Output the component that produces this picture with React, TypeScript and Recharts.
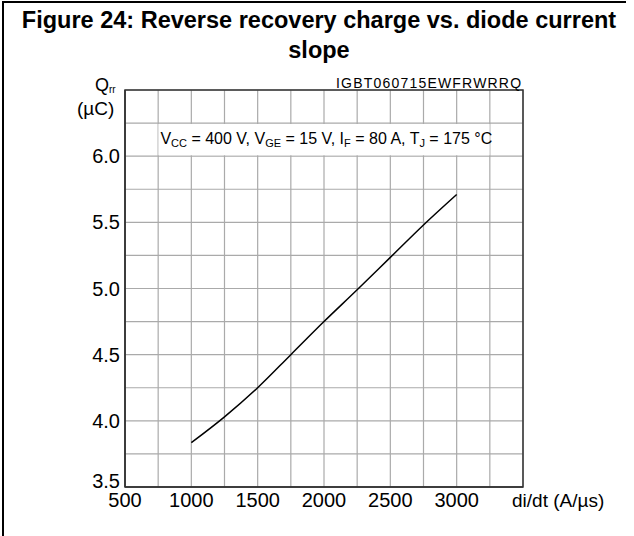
import React from 'react';
import { LineChart, Line, XAxis, YAxis, CartesianGrid, ReferenceArea } from 'recharts';

// (di/dt in A/µs, Qrr in µC)
const diDt = [1000, 1250, 1500, 1750, 2000, 2250, 2500, 2750, 3000];
const qrr = [3.835, 4.03, 4.25, 4.5, 4.75, 4.99, 5.235, 5.48, 5.71];

const xTicks = [500, 1000, 1500, 2000, 2500, 3000];
const yTicks = [3.5, 4.0, 4.5, 5.0, 5.5, 6.0];
const xGrid = [500, 750, 1000, 1250, 1500, 1750, 2000, 2250, 2500, 2750, 3000, 3250, 3500];
const yGrid = [3.5, 3.75, 4.0, 4.25, 4.5, 4.75, 5.0, 5.25, 5.5, 5.75, 6.0, 6.25, 6.5];

const FONT = '"Liberation Sans", Arial, sans-serif';

const data = diDt.map((x, i) => ({ x, q: qrr[i] }));

const YTick = (props: any) => {
  const { x, y, payload } = props;
  // bottom label sits on the axis instead of centred on it
  const shift = payload.value === 3.5 ? -6 : 0;
  return (
    <text x={x} y={y + shift} dy="0.355em" textAnchor="end" fontSize={20} fontFamily={FONT} fill="#000">
      {payload.value.toFixed(1)}
    </text>
  );
};

const Conditions = (props: any) => {
  const { viewBox } = props;
  const sub = { fontSize: 11 };
  return (
    <text x={viewBox.x + 2} y={viewBox.y + 20} fontSize={16} fontFamily={FONT} fill="#000">
      V<tspan {...sub} dy={3}>CC</tspan>
      <tspan dy={-3}> = 400 V, V</tspan>
      <tspan {...sub} dy={3}>GE</tspan>
      <tspan dy={-3}> = 15 V, I</tspan>
      <tspan {...sub} dy={3}>F</tspan>
      <tspan dy={-3}> = 80 A, T</tspan>
      <tspan {...sub} dy={3}>J</tspan>
      <tspan dy={-3}> = 175 °C</tspan>
    </text>
  );
};

const abs = (left: number, top: number): React.CSSProperties => ({
  position: 'absolute',
  left,
  top,
  fontFamily: FONT,
  color: '#000',
  whiteSpace: 'nowrap',
  lineHeight: 1,
});

export default function App() {
  return (
    <div style={{ position: 'absolute', left: 0, top: 0, width: 634, height: 536, background: '#fff', overflow: 'hidden' }}>
      {/* frame */}
      <div style={{ position: 'absolute', left: 2, top: 1, width: 2, height: 536, background: '#000' }} />
      <div style={{ position: 'absolute', left: 2, top: 1, width: 624, height: 2, background: '#000' }} />

      <div
        style={{
          position: 'absolute',
          left: 0,
          top: 5,
          width: 638,
          textAlign: 'center',
          fontFamily: FONT,
          fontWeight: 'bold',
          fontSize: 23.5,
          lineHeight: '30px',
        }}
      >
        Figure 24: Reverse recovery charge vs. diode current
        <br />
        slope
      </div>

      <LineChart
        width={634}
        height={536}
        data={data}
        margin={{ top: 90, right: 111, bottom: 0, left: 0 }}
        style={{ position: 'absolute', left: 0, top: 0 }}
      >
        <CartesianGrid
          stroke="#aaaaaa"
          strokeWidth={1.2}
          horizontalValues={yGrid}
          verticalValues={xGrid}
        />
        <XAxis
          type="number"
          dataKey="x"
          domain={[500, 3500]}
          ticks={xTicks}
          height={49}
          tickLine={false}
          tickSize={0}
          tickMargin={6}
          axisLine={{ stroke: '#333', strokeWidth: 1.5 }}
          tick={{ fontSize: 20, fontFamily: FONT, fill: '#000' }}
          interval={0}
        />
        <YAxis
          type="number"
          domain={[3.5, 6.5]}
          ticks={yTicks}
          width={125}
          tickLine={false}
          tickSize={0}
          tickMargin={5}
          axisLine={{ stroke: '#333', strokeWidth: 1.5 }}
          tick={<YTick />}
          interval={0}
        />
        <ReferenceArea
          x1={752}
          x2={3248}
          y1={6.006}
          y2={6.244}
          fill="#fff"
          fillOpacity={1}
          stroke="none"
          label={<Conditions />}
        />
        <ReferenceArea
          x1={500}
          x2={3500}
          y1={3.5}
          y2={6.5}
          fill="none"
          stroke="#333"
          strokeWidth={1.5}
        />
        <Line
          type="monotone"
          dataKey="q"
          stroke="#000"
          strokeWidth={1.5}
          dot={false}
          isAnimationActive={false}
        />
      </LineChart>

      <div style={{ ...abs(95, 76), fontSize: 18 }}>
        Q<span style={{ fontSize: 10, position: 'relative', top: 2 }}>rr</span>
      </div>
      <div style={{ ...abs(77, 99), fontSize: 19 }}>(µC)</div>
      <div style={{ ...abs(336, 76), fontSize: 14, letterSpacing: 1.2 }}>IGBT060715EWFRWRRQ</div>
      <div style={{ ...abs(512, 491), fontSize: 19 }}>di/dt (A/µs)</div>
    </div>
  );
}
